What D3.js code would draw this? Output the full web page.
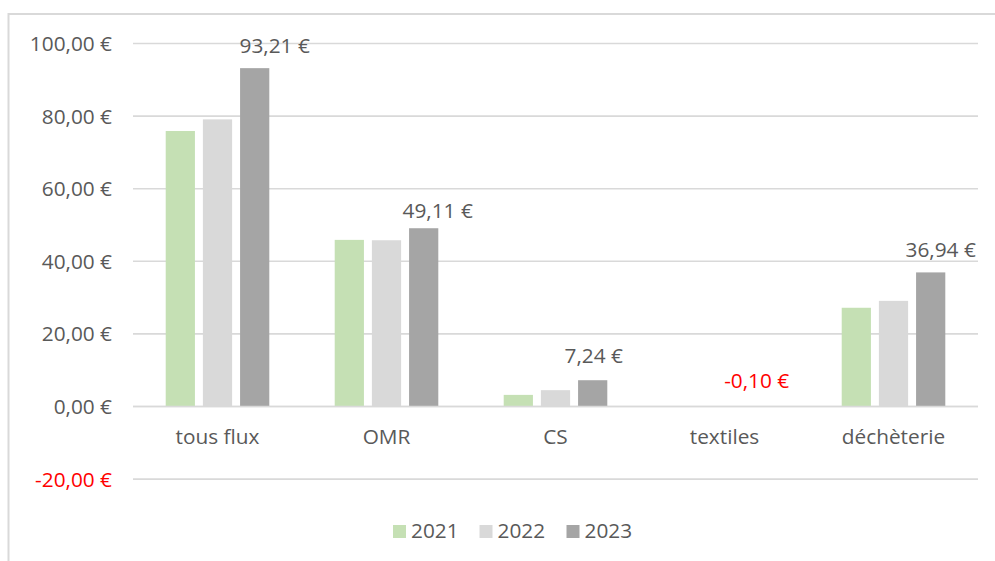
<!DOCTYPE html>
<html>
<head>
<meta charset="utf-8">
<script src="https://cdn.jsdelivr.net/npm/d3@7"></script>
<style>
  html, body { margin: 0; padding: 0; background: #fff; }
  svg { display: block; font-family: "Open Sans", sans-serif; }
</style>
</head>
<body>
<svg id="chart" width="995" height="561"></svg>
<script>
// ---- data ----
const categories = ["tous flux", "OMR", "CS", "textiles", "déchèterie"];
const seriesNames = ["2021", "2022", "2023"];
const values2021 = [75.9, 45.9, 3.2, 0, 27.2];
const values2022 = [79.1, 45.8, 4.5, 0, 29.1];
const values2023 = [93.21, 49.11, 7.24, -0.10, 36.94];
const yTicks = [-20, 0, 20, 40, 60, 80, 100];
// label nudges (px) for the 2023 data labels
const labelDx = [20, 14, 1, -5, 10];
const labelDy = [23, 18, 25, 26, 23];

const seriesValues = [values2021, values2022, values2023];
const colors = ["#C5E0B4", "#D9D9D9", "#A5A5A5"];
const textColor = "#595959";
const red = "#FF0000";
const fontSize = 20.8;

const locale = d3.formatLocale({decimal: ",", thousands: "\u00a0", grouping: [3], currency: ["", "\u00a0€"], minus: "-"});
const fmt = locale.format("$.2f");

const svg = d3.select("#chart");
const W = 995, H = 561;
const left = 133, right = 978;

svg.append("rect").attr("x", 0).attr("y", 0).attr("width", W).attr("height", H).attr("fill", "#fff");
// chart outer border
svg.append("rect")
  .attr("x", 8.5).attr("y", 14).attr("width", W + 20).attr("height", H + 20)
  .attr("fill", "none").attr("stroke", "#D9D9D9").attr("stroke-width", 2);

const y = d3.scaleLinear().domain([0, 100]).range([406.5, 43.5]);
const x0 = d3.scaleBand().domain(categories).range([left, right]).paddingInner(0.387).paddingOuter(0.1935);
const x1 = d3.scaleBand().domain(seriesNames).range([0, x0.bandwidth()]).paddingInner(0.214).paddingOuter(0);

// gridlines
svg.append("g").selectAll("line").data(yTicks).join("line")
  .attr("x1", left).attr("x2", right)
  .attr("y1", d => y(d)).attr("y2", d => y(d))
  .attr("stroke", "#D9D9D9").attr("stroke-width", 1.6);

// y tick labels
svg.append("g").selectAll("text").data(yTicks).join("text")
  .attr("x", 112).attr("y", d => y(d))
  .attr("dy", "0.36em")
  .attr("text-anchor", "end")
  .attr("font-size", fontSize)
  .attr("fill", d => d < 0 ? red : textColor)
  .text(d => fmt(d));

// bars
const groups = svg.append("g").selectAll("g").data(categories).join("g")
  .attr("transform", c => `translate(${x0(c)},0)`);
groups.selectAll("rect")
  .data((c, i) => seriesNames.map((s, j) => ({s, v: seriesValues[j][i]})))
  .join("rect")
  .attr("x", d => x1(d.s))
  .attr("width", x1.bandwidth())
  .attr("y", d => y(Math.max(0, d.v)))
  .attr("height", d => Math.abs(y(d.v) - y(0)))
  .attr("fill", (d, j) => colors[j]);

// zero line over bar bottoms
svg.append("line").attr("x1", left).attr("x2", right).attr("y1", y(0)).attr("y2", y(0))
  .attr("stroke", "#D9D9D9").attr("stroke-width", 1.6);

// data labels for 2023
svg.append("g").selectAll("text").data(categories).join("text")
  .attr("x", (c, i) => x0(c) + x1("2023") + x1.bandwidth() / 2 + labelDx[i])
  .attr("y", (c, i) => y(Math.max(0, values2023[i])) - labelDy[i])
  .attr("dy", "0.36em")
  .attr("text-anchor", "middle")
  .attr("font-size", fontSize)
  .attr("fill", (c, i) => values2023[i] < 0 ? red : textColor)
  .text((c, i) => fmt(values2023[i]));

// category labels
svg.append("g").selectAll("text").data(categories).join("text")
  .attr("x", c => x0(c) + x0.bandwidth() / 2)
  .attr("y", 444)
  .attr("text-anchor", "middle")
  .attr("font-size", fontSize)
  .attr("fill", textColor)
  .text(c => c);

// legend
const legendX = [393, 479.5, 566.5];
const lg = svg.append("g").selectAll("g").data(seriesNames).join("g")
  .attr("transform", (s, i) => `translate(${legendX[i]},0)`);
lg.append("rect").attr("x", 0).attr("y", 525).attr("width", 13).attr("height", 13)
  .attr("fill", (s, i) => colors[i]);
lg.append("text").attr("x", 18).attr("y", 538)
  .attr("font-size", fontSize).attr("fill", textColor).text(s => s);
</script>
</body>
</html>
